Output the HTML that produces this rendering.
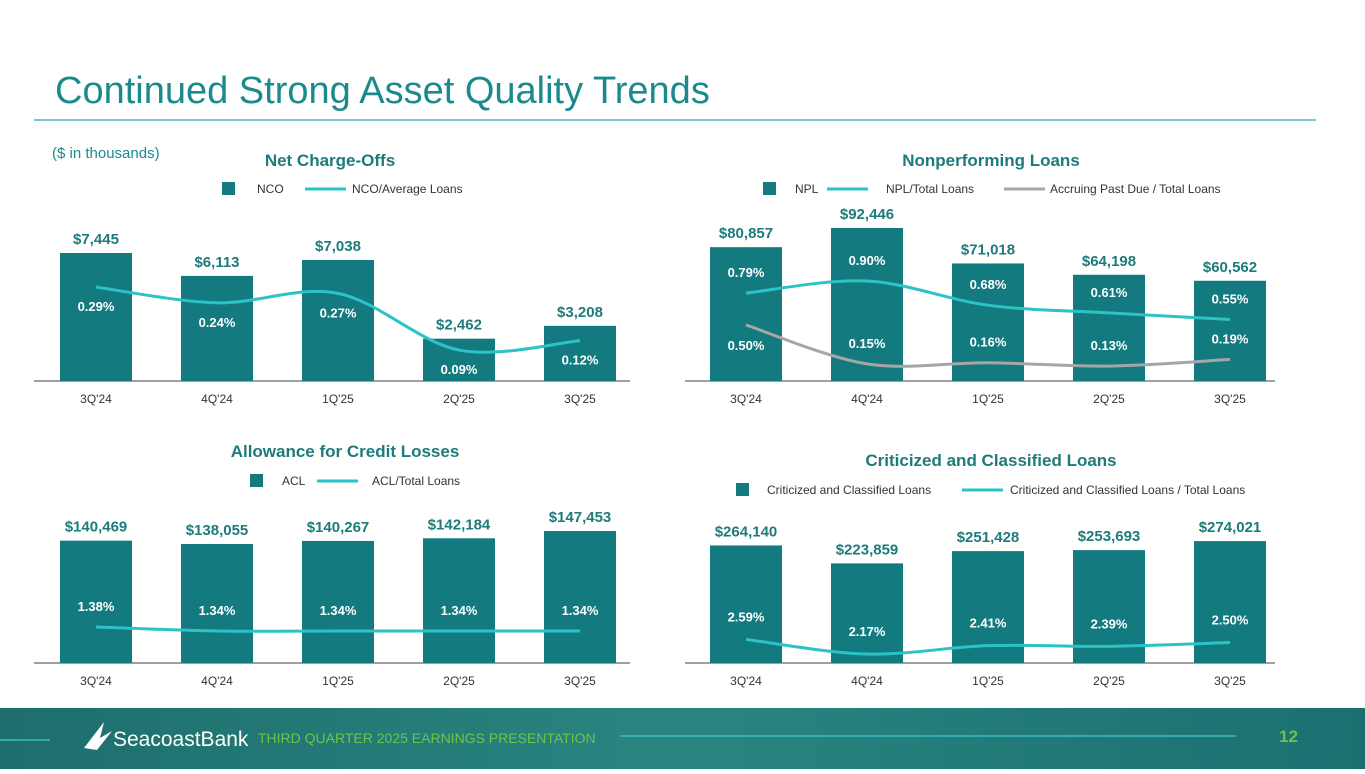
<!DOCTYPE html>
<html><head><meta charset="utf-8"><style>
body{margin:0;width:1365px;height:769px;overflow:hidden;background:#fff;font-family:"Liberation Sans",sans-serif}
svg text{font-family:"Liberation Sans",sans-serif}
</style></head><body>
<svg id="s" width="1365" height="769" viewBox="0 0 1365 769" xmlns="http://www.w3.org/2000/svg">
<defs><linearGradient id="ft" x1="0" x2="1" y1="0" y2="0"><stop offset="0" stop-color="#1d6e6c"/><stop offset="0.5" stop-color="#2a8580"/><stop offset="1" stop-color="#1b6f70"/></linearGradient></defs>
<text x="55" y="103" font-size="38" fill="#1b8a8c">Continued Strong Asset Quality Trends</text>
<line x1="34" y1="120" x2="1316" y2="120" stroke="#2aa8a8" stroke-width="1.2"/>
<text x="52" y="158" font-size="15" fill="#1b8a8c">($ in thousands)</text>
<rect x="0" y="708" width="1365" height="61" fill="url(#ft)"/>
<line x1="0" y1="740" x2="50" y2="740" stroke="#36c0c0" stroke-width="1.5"/>
<line x1="620" y1="736" x2="1236" y2="736" stroke="#36c0c0" stroke-width="1.5"/>
<path d="M84 748 L104 722 L100 738 L112 731 L97 750 Z" fill="#fff"/>
<text x="113" y="746" font-size="21" fill="#fff">SeacoastBank</text>
<text x="258" y="743" font-size="14" fill="#6cc44a">THIRD QUARTER 2025 EARNINGS PRESENTATION</text>
<text x="1279" y="742" font-size="17" font-weight="bold" fill="#6cc44a">12</text>
<g id="charts"></g>
</svg>
<script>
const categories = ["3Q'24","4Q'24","1Q'25","2Q'25","3Q'25"];
const ncoValues = [7445,6113,7038,2462,3208];
const ncoPct = [0.29,0.24,0.27,0.09,0.12];
const nplValues = [80857,92446,71018,64198,60562];
const nplPct = [0.79,0.90,0.68,0.61,0.55];
const pastDuePct = [0.50,0.15,0.16,0.13,0.19];
const aclValues = [140469,138055,140267,142184,147453];
const aclPct = [1.38,1.34,1.34,1.34,1.34];
const ccValues = [264140,223859,251428,253693,274021];
const ccPct = [2.59,2.17,2.41,2.39,2.50];

const NS="http://www.w3.org/2000/svg";
const root=document.getElementById('charts');
function mk(tag,attrs,parent){const e=document.createElementNS(NS,tag);for(const k in attrs)e.setAttribute(k,attrs[k]);(parent||root).appendChild(e);return e;}
function txt(x,y,s,size,fill,weight,anchor,parent){const t=mk('text',{x:x,y:y,'font-size':size,fill:fill,'font-weight':weight||'normal','text-anchor':anchor||'middle'},parent);t.textContent=s;return t;}
function smooth(pts){let d='M'+pts[0][0]+' '+pts[0][1];for(let i=0;i<pts.length-1;i++){const p0=pts[i-1]||pts[i],p1=pts[i],p2=pts[i+1],p3=pts[i+2]||p2;const c1=[p1[0]+(p2[0]-p0[0])/6,p1[1]+(p2[1]-p0[1])/6],c2=[p2[0]-(p3[0]-p1[0])/6,p2[1]-(p3[1]-p1[1])/6];d+=' C'+c1[0]+' '+c1[1]+' '+c2[0]+' '+c2[1]+' '+p2[0]+' '+p2[1];}return d;}
const fmt=v=>'$'+v.toLocaleString('en-US');

function chart(o){
  const g=mk('g',{});
  
  
  const xb=i=>o.x0+i*121;
  const yv=v=>o.base-(v-o.vmin)*o.vk;
  const t=txt(o.titleX,o.titleY,o.title,17,'#1e7b7b','bold','middle',g);
  
  
  mk('line',{x1:o.ax0,x2:o.ax1,y1:o.base,y2:o.base,stroke:'#404040','stroke-width':1},g);
  o.values.forEach((v,i)=>{
    const r=mk('rect',{x:xb(i),y:yv(v),width:72,height:o.base-yv(v),fill:'#137a80'},g);
    
    
    const l=txt(xb(i)+36,yv(v)-9,fmt(v),15,'#1e7b7b','bold','middle',g);
    
    
    const c=txt(xb(i)+36,o.base+22,categories[i],12,'#333','normal','middle',g);
    
    
  });
  o.lines.forEach(L=>{
    const yp=v=>L.base-v*L.k;
    const pts=L.data.map((v,i)=>[xb(i)+36,yp(v)]);
    const p=mk('path',{d:smooth(pts),fill:'none',stroke:L.color,'stroke-width':3},g);
    
    
    L.data.forEach((v,i)=>{
      const off=L.off(i);
      const l=txt(xb(i)+36,yp(v)+off,v.toFixed(2)+'%',13,'#fff','bold','middle',g);
      
      
    });
  });
  o.legend.forEach(it=>{
    if(it.type==='sq'){mk('rect',{x:it.x,y:o.legY-7,width:13,height:13,fill:'#137a80'},g);}
    else{mk('line',{x1:it.x,x2:it.x+41,y1:o.legY,y2:o.legY,stroke:it.color,'stroke-width':3},g);}
    const l=txt(it.tx,o.legY+4,it.label,12,'#333','normal','start',g);
    
    
  });
}
chart({name:'net-charge-offs-chart',title:'Net Charge-Offs',titleX:330,titleY:166,x0:60,ax0:34,ax1:630,base:381,vmin:0,vk:128/7445,values:ncoValues,legY:189,
  legend:[{type:'sq',x:222,tx:257,label:'NCO'},{type:'ln',x:305,color:'#2cc3c6',tx:352,label:'NCO/Average Loans'}],
  lines:[{name:'nco-ratio-line',data:ncoPct,base:378.4,k:315,color:'#2cc3c6',off:i=>24}]});
chart({name:'nonperforming-loans-chart',title:'Nonperforming Loans',titleX:991,titleY:166,x0:710,ax0:685,ax1:1275,base:381,vmin:0,vk:153/92446,values:nplValues,legY:189,
  legend:[{type:'sq',x:763,tx:795,label:'NPL'},{type:'ln',x:827,color:'#2cc3c6',tx:886,label:'NPL/Total Loans'},{type:'ln',x:1004,color:'#a6a6a6',tx:1050,label:'Accruing Past Due  / Total Loans'}],
  lines:[{name:'npl-ratio-line',data:nplPct,base:380,k:110,color:'#2cc3c6',off:i=>-16},
         {name:'past-due-ratio-line',data:pastDuePct,base:380.5,k:111,color:'#a6a6a6',off:i=>i===0?25:-16}]});
chart({name:'allowance-credit-losses-chart',title:'Allowance for Credit Losses',titleX:345,titleY:457,x0:60,ax0:34,ax1:630,base:663,vmin:52020,vk:13/9398,values:aclValues,legY:481,
  legend:[{type:'sq',x:250,tx:282,label:'ACL'},{type:'ln',x:317,color:'#2cc3c6',tx:372,label:'ACL/Total Loans'}],
  lines:[{name:'acl-ratio-line',data:aclPct,base:765,k:100,color:'#2cc3c6',off:i=>-16}]});
chart({name:'criticized-classified-chart',title:'Criticized and Classified Loans',titleX:991,titleY:466,x0:710,ax0:685,ax1:1275,base:663,vmin:0,vk:0.000445,values:ccValues,legY:490,
  legend:[{type:'sq',x:736,tx:767,label:'Criticized and Classified Loans'},{type:'ln',x:962,color:'#2cc3c6',tx:1010,label:'Criticized and Classified Loans  / Total Loans'}],
  lines:[{name:'cc-ratio-line',data:ccPct,base:730,k:35,color:'#2cc3c6',off:i=>-18}]});
</script>
</body></html>
